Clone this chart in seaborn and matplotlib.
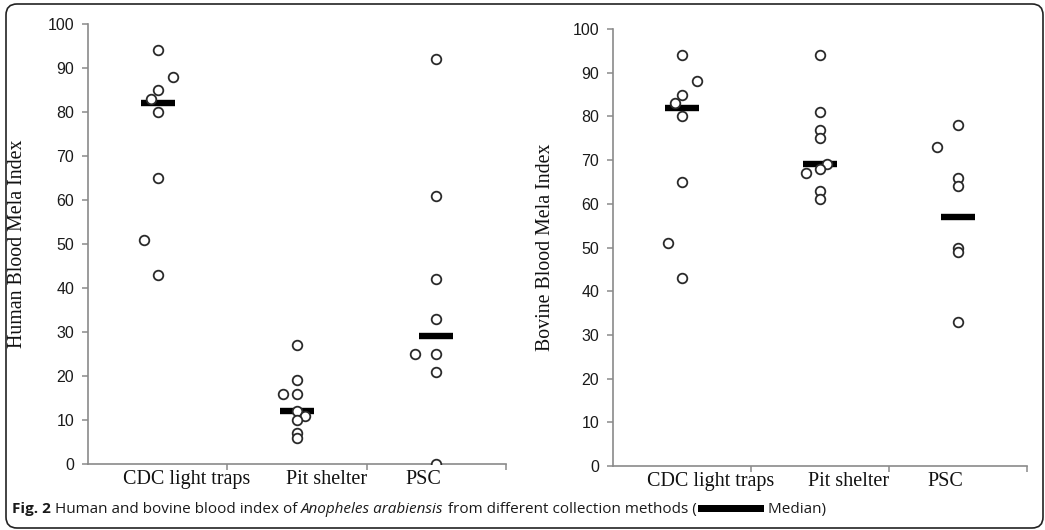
import numpy as np
import pandas as pd
import matplotlib
matplotlib.use("Agg")
import matplotlib.pyplot as plt
import seaborn as sns
from matplotlib.patches import FancyBboxPatch, Rectangle
from matplotlib.transforms import IdentityTransform

# ---------------- data ----------------
categories = ["CDC light traps", "Pit shelter", "PSC"]

human_cdc = [94, 88, 85, 83, 80, 65, 51, 43]
human_pit = [27, 19, 16, 16, 12, 11, 10, 7, 6]
human_psc = [92, 61, 42, 33, 25, 25, 21, 0]
human_median = [82, 12, 29]

bovine_cdc = [94, 88, 85, 83, 80, 65, 51, 43]
bovine_pit = [94, 81, 77, 75, 69, 68, 67, 63, 61]
bovine_psc = [78, 73, 66, 64, 50, 49, 33]
bovine_median = [82, 69, 57]

yticks = [0, 10, 20, 30, 40, 50, 60, 70, 80, 90, 100]

# ---------------- layout: sideways shift of overlapping dots ----------------
human_cdc_dx = [0, 0.107, 0, -0.048, 0, 0, -0.098, 0]
human_pit_dx = [0, 0, -0.10, 0, 0, 0.055, 0, 0, 0]
human_psc_dx = [0, 0, 0, 0, -0.15, 0, 0, 0]
bovine_cdc_dx = [0, 0.107, 0, -0.048, 0, 0, -0.098, 0]
bovine_pit_dx = [0, 0, 0, 0, 0.05, 0, -0.10, 0, 0]
bovine_psc_dx = [0, -0.15, 0, 0, 0, 0, 0]

label_pos = [0.21, 1.21, 1.91]

plt.rcParams["font.family"] = ["Liberation Sans", "DejaVu Sans"]

W, H = 1045, 530
fig = plt.figure(figsize=(W / 100, H / 100), dpi=100)


def px_axes(x0, x1, ytop, ybot):
    return fig.add_axes([x0 / W, (H - ybot) / H, (x1 - x0) / W, (ybot - ytop) / H])


def panel(ax, series, dxs, medians, ylabel):
    rows = []
    for i, (vals, dx) in enumerate(zip(series, dxs)):
        for v, d in zip(vals, dx):
            rows.append({"x": i + d, "value": v})
    df = pd.DataFrame(rows)
    ax.hlines(medians, [i - 0.122 for i in range(3)], [i + 0.122 for i in range(3)],
              colors="black", linewidth=4.6, zorder=2)
    sns.scatterplot(data=df, x="x", y="value", ax=ax, marker="o", s=48,
                    facecolor="white", edgecolor="#2a2a2a", linewidth=1.3,
                    zorder=3, legend=False)
    ax.set_xlim(-0.5, 2.5)
    ax.set_ylim(0, 100)
    ax.set_yticks(yticks)
    ax.set_yticklabels([str(t) for t in yticks], fontsize=11.5, color="#1a1a1a")
    ax.set_xticks([0.5, 1.5, 2.5])
    ax.set_xticklabels([])
    ax.set_xticks(label_pos, minor=True)
    ax.set_xticklabels(categories, minor=True, fontsize=14.5,
                       family="Liberation Serif", color="#111111")
    ax.tick_params(axis="x", which="minor", length=0, pad=4)
    ax.tick_params(axis="x", which="major", length=4, width=1.1, color="#8a8a8a", direction="out")
    ax.tick_params(axis="y", length=4, width=1.1, color="#8a8a8a", direction="out", pad=6)
    for s in ["top", "right"]:
        ax.spines[s].set_visible(False)
    for s in ["left", "bottom"]:
        ax.spines[s].set_color("#8a8a8a")
        ax.spines[s].set_linewidth(1.2)
    ax.set_xlabel("")
    ax.set_ylabel(ylabel, family="Liberation Serif", fontsize=14.3, color="#111111")
    ax.set_facecolor("white")


ax1 = px_axes(88, 506, 24, 464)
panel(ax1, [human_cdc, human_pit, human_psc],
      [human_cdc_dx, human_pit_dx, human_psc_dx], human_median, "Human Blood Mela Index")
ax1.yaxis.set_label_coords((27 - 88) / 418, 0.5)

ax2 = px_axes(613, 1027, 29, 466)
panel(ax2, [bovine_cdc, bovine_pit, bovine_psc],
      [bovine_cdc_dx, bovine_pit_dx, bovine_psc_dx], bovine_median, "Bovine Blood Mela Index")
ax2.yaxis.set_label_coords((555 - 613) / 414, 0.5)

# ---------------- rounded frame ----------------
frame = FancyBboxPatch((6, 2), 1037, 524, boxstyle="round,pad=0,rounding_size=11",
                       transform=IdentityTransform(), facecolor="none",
                       edgecolor="#222222", linewidth=1.2)
fig.patches.append(frame)

# ---------------- caption ----------------
renderer = fig.canvas.get_renderer()
cap_font = "Open Sans"
base_y = H - 513
x = 12
runs = [
    ("Fig. 2", dict(weight="bold")),
    (" Human and bovine blood index of ", {}),
    ("Anopheles arabiensis", dict(style="italic")),
    (" from different collection methods (", {}),
    (None, {}),
    (" Median)", {}),
]
for text, kw in runs:
    if text is None:
        bar = Rectangle((x + 1, base_y + 1), 66, 7.5, transform=IdentityTransform(),
                        facecolor="black", edgecolor="none")
        fig.patches.append(bar)
        x += 67
        continue
    t = fig.text(x, base_y, text, transform=IdentityTransform(), ha="left", va="baseline",
                 fontsize=11.0, family=cap_font, color="#1a1a1a", **kw)
    bb = t.get_window_extent(renderer)
    x = bb.x1

fig.savefig("out.png", dpi=100)
